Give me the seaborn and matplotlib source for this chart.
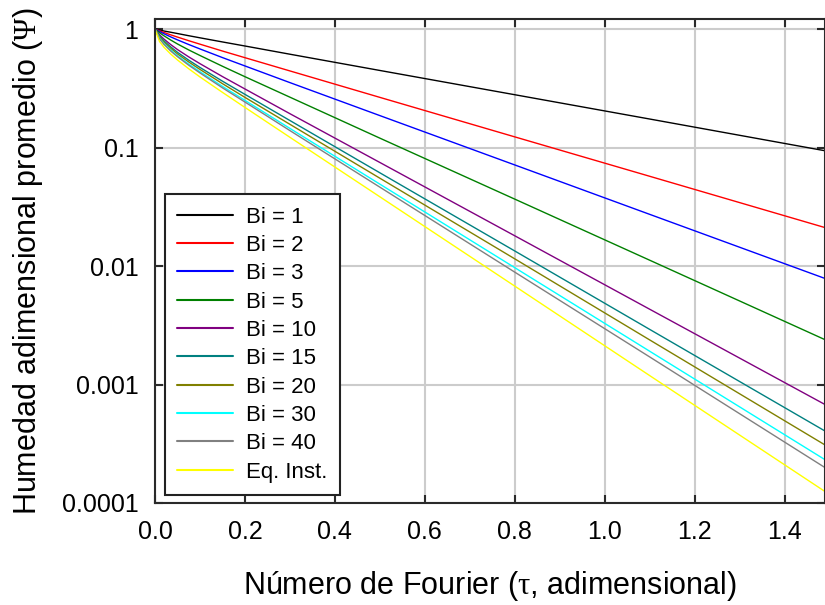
import matplotlib
matplotlib.use("Agg")
import matplotlib.pyplot as plt
from matplotlib.ticker import NullLocator
import pandas as pd
import seaborn as sns

# Fourier number (tau) sample points
tau = [0.0, 0.01, 0.02, 0.035, 0.05, 0.075, 0.1, 0.15, 0.2, 0.3, 0.5, 0.8, 1.1, 1.49]

# average dimensionless moisture
bi_1 = [1.0, 0.981, 0.962, 0.939, 0.916, 0.878, 0.843, 0.778, 0.719, 0.613, 0.447, 0.279, 0.174, 0.0939]
bi_2 = [1.0, 0.966, 0.935, 0.893, 0.855, 0.797, 0.745, 0.652, 0.573, 0.443, 0.265, 0.123, 0.0572, 0.0211]
bi_3 = [1.0, 0.953, 0.912, 0.858, 0.810, 0.740, 0.679, 0.574, 0.488, 0.353, 0.186, 0.0713, 0.0273, 0.00785]
bi_5 = [1.0, 0.930, 0.876, 0.807, 0.748, 0.666, 0.598, 0.485, 0.396, 0.266, 0.120, 0.0367, 0.0112, 0.00239]
bi_10 = [1.0, 0.893, 0.822, 0.739, 0.671, 0.582, 0.510, 0.397, 0.312, 0.193, 0.0748, 0.0180, 0.00432, 0.000678]
bi_15 = [1.0, 0.871, 0.794, 0.706, 0.636, 0.546, 0.474, 0.363, 0.281, 0.169, 0.0612, 0.0134, 0.00292, 0.000405]
bi_20 = [1.0, 0.855, 0.775, 0.687, 0.616, 0.527, 0.456, 0.346, 0.265, 0.157, 0.0551, 0.0115, 0.00238, 0.000309]
bi_30 = [1.0, 0.837, 0.754, 0.665, 0.595, 0.506, 0.436, 0.328, 0.250, 0.145, 0.0491, 0.00969, 0.00191, 0.000232]
bi_40 = [1.0, 0.826, 0.742, 0.652, 0.584, 0.495, 0.426, 0.319, 0.242, 0.139, 0.0463, 0.00888, 0.00171, 0.000199]
eq_inst = [1.0, 0.785, 0.701, 0.614, 0.548, 0.462, 0.394, 0.292, 0.218, 0.122, 0.0384, 0.00677, 0.00119, 0.000125]

labels = ["Bi = 1", "Bi = 2", "Bi = 3", "Bi = 5", "Bi = 10", "Bi = 15",
          "Bi = 20", "Bi = 30", "Bi = 40", "Eq. Inst."]
series = [bi_1, bi_2, bi_3, bi_5, bi_10, bi_15, bi_20, bi_30, bi_40, eq_inst]
colors = ["#000000", "#ff0000", "#0000ff", "#008000", "#800080",
          "#008080", "#808000", "#00ffff", "#808080", "#ffff00"]

y_ticks = [1, 0.1, 0.01, 0.001, 0.0001]
y_tick_labels = ["1", "0.1", "0.01", "0.001", "0.0001"]
x_ticks = [0.0, 0.2, 0.4, 0.6, 0.8, 1.0, 1.2, 1.4]

rows = []
for lab, vals in zip(labels, series):
    for t, v in zip(tau, vals):
        rows.append({"tau": t, "psi": v, "serie": lab})
df = pd.DataFrame(rows)

sns.set_style("ticks")
plt.rcParams.update({
    "font.family": ["Liberation Sans", "DejaVu Sans"],
    "mathtext.fontset": "custom",
    "mathtext.rm": "Liberation Serif",
    "mathtext.it": "Liberation Serif",
    "text.color": "black",
    "axes.labelcolor": "black",
    "xtick.labelcolor": "black",
    "ytick.labelcolor": "black",
    "axes.edgecolor": "#2a2a2a",
    "axes.linewidth": 1.5,
})

fig = plt.figure(figsize=(8.25, 6.05), dpi=100)
ax = fig.add_axes([155 / 825, 102 / 605, 670 / 825, 484 / 605])

sns.lineplot(data=df, x="tau", y="psi", hue="serie", palette=colors,
             linewidth=1.0, errorbar=None, ax=ax)

ax.set_yscale("log")
ax.set_xlim(0, 1.49)
ax.set_ylim(1e-4, 1.215)
ax.set_xticks(x_ticks, labels=[f"{v:.1f}" for v in x_ticks])
ax.set_yticks(y_ticks, labels=y_tick_labels)
ax.yaxis.set_minor_locator(NullLocator())
ax.xaxis.set_minor_locator(NullLocator())

ax.grid(True, color="#cccccc", linewidth=1.5)
ax.set_axisbelow(True)
ax.tick_params(axis="both", which="major", direction="in", length=6, width=1.5,
               color="#2a2a2a", labelsize=18, top=True, right=True)
ax.tick_params(axis="y", pad=12)
ax.tick_params(axis="x", pad=12)

ax.set_xlabel(r"Número de Fourier ($\tau$, adimensional)", fontsize=22, labelpad=18)
ax.set_ylabel(r"Humedad adimensional promedio ($\Psi$)", fontsize=22, labelpad=12)

leg = ax.legend(loc="lower left", bbox_to_anchor=(0.015, 0.017), borderaxespad=0,
                fontsize=16, frameon=True, fancybox=False, framealpha=1,
                edgecolor="#222222", handlelength=2.5, handletextpad=0.6,
                labelspacing=0.33, borderpad=0.55, title=None)
leg.get_frame().set_linewidth(1.5)
for line in leg.get_lines():
    line.set_linewidth(1.5)

fig.savefig("out.png", dpi=100)
